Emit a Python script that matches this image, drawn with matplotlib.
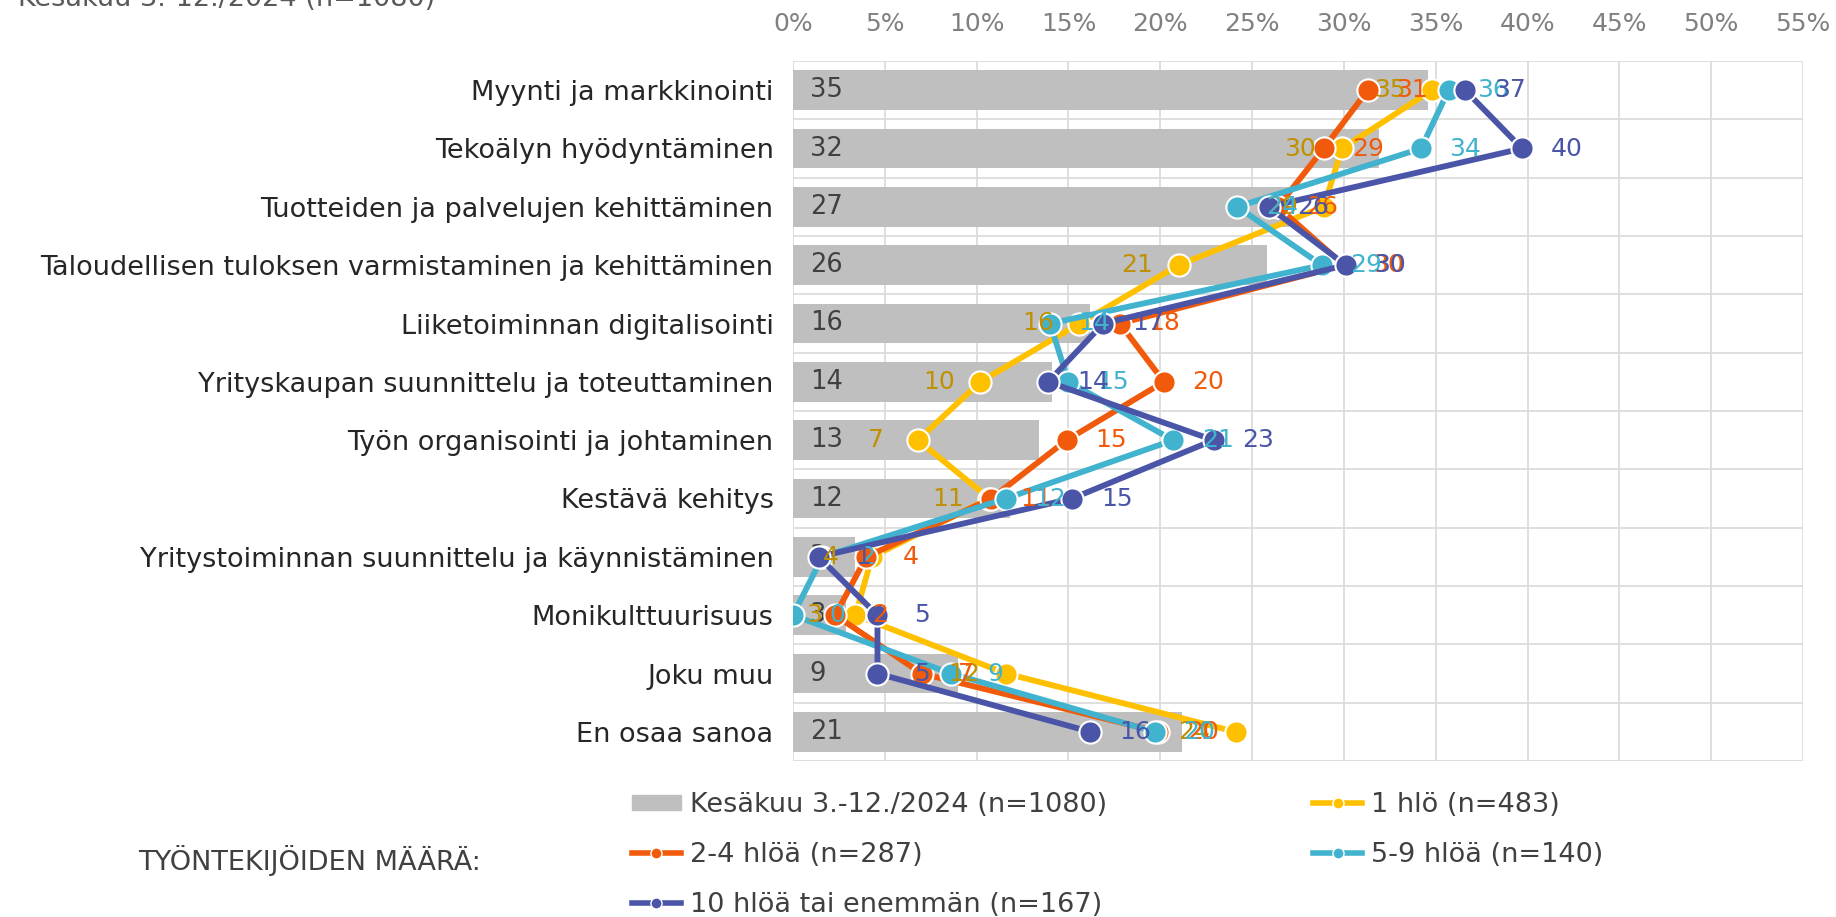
import matplotlib
matplotlib.use('Agg')
import matplotlib.pyplot as plt
from matplotlib.lines import Line2D
from matplotlib.patches import Patch
import numpy as np

plt.rcParams['font.family'] = ['DejaVu Sans']

categories = [
    "Myynti ja markkinointi",
    "Tekoälyn hyödyntäminen",
    "Tuotteiden ja palvelujen kehittäminen",
    "Taloudellisen tuloksen varmistaminen ja kehittäminen",
    "Liiketoiminnan digitalisointi",
    "Yrityskaupan suunnittelu ja toteuttaminen",
    "Työn organisointi ja johtaminen",
    "Kestävä kehitys",
    "Yritystoiminnan suunnittelu ja käynnistäminen",
    "Monikulttuurisuus",
    "Joku muu",
    "En osaa sanoa",
]

# kaikki vastaajat (palkit)
total = [34.6, 31.9, 27.0, 25.8, 16.2, 14.1, 13.4, 11.8, 3.4, 2.9, 9.0, 21.2]
# työntekijöiden määrän mukaan
one = [34.8, 29.9, 28.9, 21.0, 15.6, 10.2, 6.8, 10.7, 4.3, 3.4, 11.6, 24.1]
two_four = [31.3, 28.9, 26.4, 30.0, 17.8, 20.2, 14.9, 10.8, 4.0, 2.3, 7.0, 19.9]
five_nine = [35.7, 34.2, 24.2, 28.8, 14.0, 15.0, 20.7, 11.6, 1.6, 0.0, 8.6, 19.7]
ten_plus = [36.6, 39.7, 25.9, 30.1, 16.9, 13.9, 22.9, 15.2, 1.4, 4.6, 4.6, 16.2]

bar_label = "Kesäkuu 3.-12./2024 (n=1080)"
series_names = ["1 hlö (n=483)", "2-4 hlöä (n=287)", "5-9 hlöä (n=140)", "10 hlöä tai enemmän (n=167)"]
series_colors = ['#FFC000', '#F05A0A', '#41B3CE', '#4A55A8']
label_colors = ['#BF9000', '#F05A0A', '#41B3CE', '#4A55A8']
xticks = list(range(0, 60, 5))

fs_cat = 19.5
fs_lab = 18
fig = plt.figure(figsize=(18.36, 9.17), dpi=100)
ax = fig.add_axes([793/1836, 1-761/917, 1010/1836, 700/917])

y = np.arange(len(categories))
ax.barh(y, total, height=0.68, color='#BFBFBF', zorder=2)
for i, v in enumerate(total):
    ax.annotate(str(int(round(v))), xy=(0, i), xytext=(12, 0), textcoords='offset points',
                ha='left', va='center', fontsize=18.5, color='#404040', zorder=3)

all_series = [one, two_four, five_nine, ten_plus]
for k, vals in enumerate(all_series):
    ax.plot(vals, y, color=series_colors[k], lw=4.2, marker='o', markersize=16,
            markeredgecolor='white', markeredgewidth=1.5, zorder=4 + k)
for k, vals in enumerate(all_series):
    dx = -30 if k == 0 else 32
    for i, v in enumerate(vals):
        ax.annotate(str(int(round(v))), xy=(v, i), xytext=(dx, 0), textcoords='offset points',
                    ha='center', va='center', fontsize=fs_lab, color=label_colors[k], zorder=10)

ax.set_xlim(0, 55)
ax.set_ylim(len(categories) - 0.5, -0.5)
ax.set_xticks(xticks)
ax.set_xticklabels([f"{t}%" for t in xticks])
ax.xaxis.tick_top()
ax.tick_params(axis='x', length=0, pad=18, labelsize=18, labelcolor='#808080')
ax.set_yticks(y)
ax.set_yticklabels(categories)
ax.tick_params(axis='y', length=0, pad=14, labelsize=fs_cat, labelcolor='#262626')
ax.set_yticks(np.arange(-0.5, len(categories), 1), minor=True)
ax.tick_params(axis='y', which='minor', length=0)
ax.grid(axis='x', which='major', color='#D9D9D9', lw=1.2, zorder=0)
ax.grid(axis='y', which='minor', color='#D9D9D9', lw=1.2, zorder=0)
for s in ax.spines.values():
    s.set_visible(False)

fig.text(18/1836, 1 + 1/917, bar_label, ha='left', va='center', fontsize=fs_cat, color='#595959')
fig.text(138/1836, 1 - 861/917, "TYÖNTEKIJÖIDEN MÄÄRÄ:", ha='left', va='center', fontsize=fs_cat, color='#404040')

handles = [Patch(color='#BFBFBF')]
for c in series_colors:
    handles.append(Line2D([], [], color=c, lw=4, marker='o', markersize=8,
                          markeredgecolor='white', markeredgewidth=1))
labels = [bar_label] + series_names
order = [0, 2, 4, 1, 3]
fig.legend([handles[i] for i in order], [labels[i] for i in order], ncol=2,
           loc='upper left', bbox_to_anchor=(632/1836, 1 - 792/917), frameon=False,
           fontsize=fs_cat, labelcolor='#404040', handlelength=1.8, handleheight=0.5,
           handletextpad=0.35, columnspacing=7.6, labelspacing=0.88, borderpad=0, borderaxespad=0)

fig.savefig('out.png', dpi=100)
